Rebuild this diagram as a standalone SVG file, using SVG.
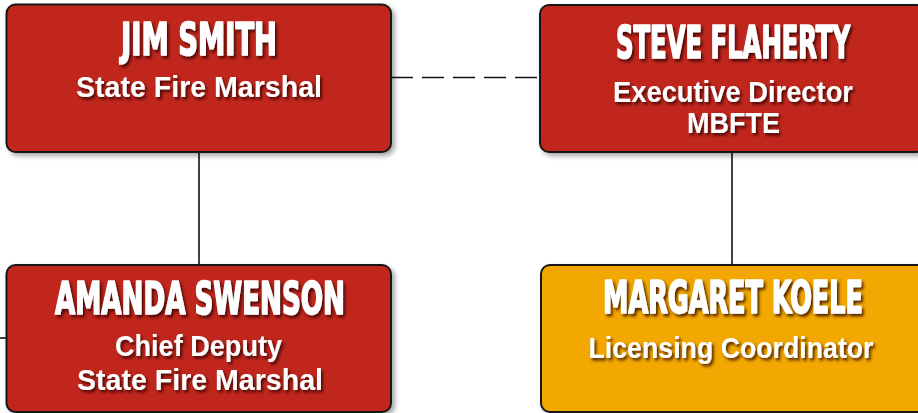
<svg xmlns="http://www.w3.org/2000/svg" width="918" height="413" viewBox="0 0 918 413">
<defs>
<filter id="boxShadow" filterUnits="userSpaceOnUse" x="0" y="0" width="918" height="413">
<feDropShadow dx="3" dy="3" stdDeviation="2.5" flood-color="#000" flood-opacity="0.35"/>
</filter>
<filter id="txtShadow" filterUnits="userSpaceOnUse" x="0" y="0" width="918" height="413">
<feDropShadow dx="2" dy="2.5" stdDeviation="1.4" flood-color="#2a0000" flood-opacity="0.8"/>
</filter>
</defs>
<style>
.box{stroke:#161616;stroke-width:2;filter:url(#boxShadow)}
.red{fill:#c1271f}
.gold{fill:#f2a800}
.ts{filter:url(#txtShadow)}
.title{font-family:"DejaVu Sans Condensed","DejaVu Sans",sans-serif;font-stretch:condensed;font-weight:bold;font-size:44px;fill:#fff;stroke:#fff;stroke-width:1.6;stroke-linejoin:round;text-anchor:middle}
.sub{font-family:"Liberation Sans",Arial,sans-serif;font-weight:bold;font-size:30px;fill:#fff;text-anchor:middle}
.conn{stroke:#111;stroke-width:1.6;fill:none}
.dash{stroke-dasharray:22 9}
</style>
<g id="connectors">
<line class="conn dash" x1="391" y1="77.5" x2="540" y2="77.5"/>
<line class="conn" x1="199" y1="152" x2="199" y2="265"/>
<line class="conn" x1="732" y1="152" x2="732" y2="265"/>
<line class="conn" x1="0" y1="338" x2="6" y2="338"/>
</g>
<g id="jim-smith">
<rect class="box red" x="6.5" y="4.5" width="384.5" height="147.5" rx="9"/>
<g class="ts">
<text class="title" transform="translate(199,55) scale(0.6,1)" x="0" y="0" textLength="260" lengthAdjust="spacingAndGlyphs">JIM SMITH</text>
<text class="sub" x="199" y="97" textLength="246" lengthAdjust="spacingAndGlyphs">State Fire Marshal</text>
</g>
</g>
<g id="steve-flaherty">
<rect class="box red" x="540" y="5" width="386" height="147" rx="9"/>
<g class="ts">
<text class="title" transform="translate(733,58) scale(0.6,1)" x="0" y="0" textLength="390" lengthAdjust="spacingAndGlyphs">STEVE FLAHERTY</text>
<text class="sub" x="733" y="102" textLength="240" lengthAdjust="spacingAndGlyphs">Executive Director</text>
<text class="sub" x="733.5" y="133" textLength="93" lengthAdjust="spacingAndGlyphs">MBFTE</text>
</g>
</g>
<g id="amanda-swenson">
<rect class="box red" x="6.5" y="265" width="384.5" height="147" rx="9"/>
<g class="ts">
<text class="title" transform="translate(200,314) scale(0.6,1)" x="0" y="0" textLength="483" lengthAdjust="spacingAndGlyphs">AMANDA SWENSON</text>
<text class="sub" x="198.5" y="356" textLength="167" lengthAdjust="spacingAndGlyphs">Chief Deputy</text>
<text class="sub" x="200" y="390" textLength="246" lengthAdjust="spacingAndGlyphs">State Fire Marshal</text>
</g>
</g>
<g id="margaret-koele">
<rect class="box gold" x="541" y="265" width="386" height="147" rx="9"/>
<g class="ts">
<text class="title" transform="translate(733,313) scale(0.6,1)" x="0" y="0" textLength="433" lengthAdjust="spacingAndGlyphs">MARGARET KOELE</text>
<text class="sub" x="731" y="358" textLength="285" lengthAdjust="spacingAndGlyphs">Licensing Coordinator</text>
</g>
</g>
</svg>
